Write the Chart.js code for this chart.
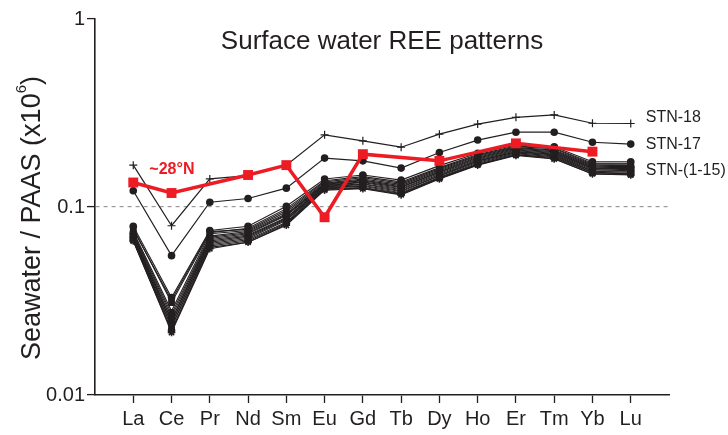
<!DOCTYPE html>
<html>
<head>
<meta charset="utf-8">
<script src="https://cdn.jsdelivr.net/npm/chart.js@4.4.1/dist/chart.umd.min.js"></script>
<style>
  html, body { margin: 0; padding: 0; background: #fff; }
  #wrap { width: 728px; height: 435px; }
</style>
</head>
<body>
<div id="wrap"><canvas id="ree" width="728" height="435"></canvas></div>
<script>
// Elementos (eje X)
const categories = ['La', 'Ce', 'Pr', 'Nd', 'Sm', 'Eu', 'Gd', 'Tb', 'Dy', 'Ho', 'Er', 'Tm', 'Yb', 'Lu'];
const yTickValues = [0.01, 0.1, 1];
const yTickLabels = ['0.01', '0.1', '1'];

// Series
const stn18 = [0.167, 0.0795, 0.141, 0.147, 0.167, 0.242, 0.225, 0.208, 0.244, 0.276, 0.300, 0.309, 0.279, 0.278];
const stn17 = [0.122, 0.0551, 0.106, 0.111, 0.126, 0.182, 0.176, 0.161, 0.195, 0.227, 0.250, 0.250, 0.221, 0.216];
const site28N = [0.135, 0.1187, null, 0.148, 0.167, 0.0882, 0.191, null, 0.176, null, 0.218, null, 0.197, null];

// STN-(1-15)
const stn01 = [0.079, 0.033, 0.075, 0.079, 0.101, 0.141, 0.148, 0.139, 0.166, 0.193, 0.214, 0.209, 0.174, 0.174];
const stn02 = [0.077, 0.031, 0.073, 0.077, 0.098, 0.138, 0.145, 0.136, 0.162, 0.190, 0.211, 0.206, 0.171, 0.171];
const stn03 = [0.076, 0.032, 0.074, 0.076, 0.096, 0.136, 0.143, 0.134, 0.160, 0.188, 0.209, 0.204, 0.169, 0.169];
const stn04 = [0.074, 0.028, 0.072, 0.075, 0.094, 0.134, 0.141, 0.132, 0.158, 0.186, 0.207, 0.201, 0.167, 0.166];
const stn05 = [0.073, 0.027, 0.070, 0.074, 0.092, 0.133, 0.139, 0.130, 0.156, 0.184, 0.205, 0.199, 0.165, 0.164];
const stn06 = [0.072, 0.026, 0.069, 0.073, 0.091, 0.132, 0.138, 0.128, 0.154, 0.182, 0.203, 0.197, 0.163, 0.162];
const stn07 = [0.071, 0.025, 0.068, 0.072, 0.090, 0.131, 0.136, 0.127, 0.153, 0.180, 0.201, 0.195, 0.161, 0.160];
const stn08 = [0.070, 0.025, 0.067, 0.071, 0.088, 0.130, 0.135, 0.125, 0.151, 0.178, 0.199, 0.193, 0.160, 0.158];
const stn09 = [0.069, 0.024, 0.066, 0.070, 0.087, 0.129, 0.133, 0.124, 0.149, 0.176, 0.197, 0.191, 0.158, 0.156];
const stn10 = [0.069, 0.024, 0.065, 0.069, 0.086, 0.128, 0.132, 0.122, 0.147, 0.175, 0.196, 0.189, 0.156, 0.155];
const stn11 = [0.068, 0.023, 0.064, 0.068, 0.085, 0.127, 0.130, 0.121, 0.146, 0.173, 0.194, 0.187, 0.155, 0.153];
const stn12 = [0.067, 0.023, 0.063, 0.067, 0.083, 0.126, 0.129, 0.119, 0.144, 0.171, 0.192, 0.185, 0.153, 0.151];
const stn13 = [0.067, 0.022, 0.062, 0.066, 0.082, 0.125, 0.127, 0.118, 0.143, 0.169, 0.190, 0.183, 0.152, 0.150];
const stn14 = [0.066, 0.022, 0.061, 0.065, 0.081, 0.124, 0.126, 0.117, 0.142, 0.168, 0.189, 0.181, 0.150, 0.149];
const stn15 = [0.066, 0.0215, 0.060, 0.065, 0.080, 0.123, 0.125, 0.116, 0.141, 0.167, 0.188, 0.180, 0.150, 0.148];

const stnGroup = [stn01, stn02, stn03, stn04, stn05, stn06, stn07, stn08, stn09, stn10, stn11, stn12, stn13, stn14, stn15];

const FONT = '"Liberation Sans", Arial, Helvetica, sans-serif';
const INK = '#231f20';
const RED = '#ed1c24';

// convierte una serie en puntos {x: indice, y: valor}
function toPoints(serie) {
    return serie.map((v, i) => ({ x: i, y: v }));
}

const marcadores = ['circle', 'rect', 'triangle', 'triangle', 'circle', 'rectRot', 'circle', 'rect',
    'triangle', 'circle', 'crossRot', 'rect', 'circle', 'triangle', 'star'];

const datasets = [];

datasets.push({
    label: '~28°N',
    data: toPoints(site28N),
    borderColor: RED,
    backgroundColor: RED,
    borderWidth: 3.5,
    pointStyle: 'rect',
    pointRadius: 7,
    pointBorderWidth: 0,
    spanGaps: true
});

datasets.push({
    label: 'STN-18',
    data: toPoints(stn18),
    borderColor: INK,
    backgroundColor: INK,
    borderWidth: 1.2,
    pointStyle: 'cross',
    pointRadius: 4,
    pointBorderWidth: 1.2
});

datasets.push({
    label: 'STN-17',
    data: toPoints(stn17),
    borderColor: INK,
    backgroundColor: INK,
    borderWidth: 1.2,
    pointStyle: 'circle',
    pointRadius: 3.8,
    pointBorderWidth: 0
});

stnGroup.forEach((serie, i) => {
    datasets.push({
        label: 'STN-' + (i + 1),
        data: toPoints(serie),
        borderColor: INK,
        backgroundColor: INK,
        borderWidth: 1.1,
        pointStyle: marcadores[i],
        pointRotation: (i === 3 || i === 8) ? 180 : 0,
        pointRadius: marcadores[i] === 'rect' ? 4.8 : 3.8,
        pointBorderWidth: (marcadores[i] === 'star' || marcadores[i] === 'crossRot') ? 1.5 : 0
    });
});

// Textos sobre el canvas
const textos = {
    id: 'textos',
    afterDraw(chart) {
        const { ctx, chartArea, scales } = chart;
        const xs = scales.x, ys = scales.y;
        ctx.save();

        // titulo
        ctx.fillStyle = INK;
        ctx.font = '26px ' + FONT;
        ctx.textAlign = 'center';
        ctx.textBaseline = 'middle';
        ctx.fillText('Surface water REE patterns', (chartArea.left + chartArea.right) / 2, 42);

        // etiqueta eje Y con superindice
        const partA = 'Seawater / PAAS (x10';
        const partB = '6';
        const partC = ')';
        ctx.font = '27px ' + FONT;
        const wA = ctx.measureText(partA).width;
        const wC = ctx.measureText(partC).width;
        ctx.font = '15px ' + FONT;
        const wB = ctx.measureText(partB).width;
        const total = wA + wB + wC;
        ctx.translate(30, 218);
        ctx.rotate(-Math.PI / 2);
        ctx.textAlign = 'left';
        ctx.textBaseline = 'alphabetic';
        ctx.font = '27px ' + FONT;
        ctx.fillText(partA, -total / 2, 10);
        ctx.font = '15px ' + FONT;
        ctx.fillText(partB, -total / 2 + wA, -4);
        ctx.font = '27px ' + FONT;
        ctx.fillText(partC, -total / 2 + wA + wB, 10);
        ctx.setTransform(1, 0, 0, 1, 0, 0);

        // etiquetas de series a la derecha
        ctx.font = '16px ' + FONT;
        ctx.textAlign = 'left';
        ctx.textBaseline = 'middle';
        const last = categories.length - 1;
        const xr = xs.getPixelForValue(last) + 15;
        ctx.fillText('STN-18', xr, ys.getPixelForValue(stn18[last]) - 6);
        ctx.fillText('STN-17', xr, ys.getPixelForValue(stn17[last]) + 0);
        ctx.fillText('STN-(1-15)', xr, ys.getPixelForValue(stn01[last]) + 9);

        // etiqueta roja
        ctx.fillStyle = RED;
        ctx.font = 'bold 16px ' + FONT;
        ctx.fillText('~28°N', xs.getPixelForValue(0.42), ys.getPixelForValue(0.159));

        ctx.restore();
    }
};

const ctx = document.getElementById('ree').getContext('2d');
new Chart(ctx, {
    type: 'line',
    data: { datasets: datasets },
    options: {
        responsive: false,
        animation: false,
        events: [],
        layout: { padding: { top: 19, right: 59, left: 0, bottom: 0 } },
        plugins: { legend: { display: false }, tooltip: { enabled: false } },
        scales: {
            x: {
                type: 'linear',
                min: -1,
                max: categories.length,
                afterFit: s => { s.height = 40; },
                afterBuildTicks: s => { s.ticks = categories.map((c, i) => ({ value: i })); },
                ticks: {
                    callback: v => categories[v],
                    color: INK,
                    font: { family: FONT, size: 20 },
                    padding: 4,
                    maxRotation: 0,
                    autoSkip: false
                },
                grid: {
                    color: 'transparent',
                    drawOnChartArea: false,
                    tickColor: INK,
                    tickLength: 8,
                    tickWidth: 1.3
                },
                border: { color: INK, width: 1.6 }
            },
            y: {
                type: 'logarithmic',
                min: yTickValues[0],
                max: yTickValues[yTickValues.length - 1],
                afterFit: s => { s.width = 95; },
                afterBuildTicks: s => { s.ticks = yTickValues.map(v => ({ value: v })); },
                ticks: {
                    callback: v => yTickLabels[yTickValues.indexOf(v)],
                    color: INK,
                    font: { family: FONT, size: 20 },
                    padding: 2
                },
                grid: {
                    color: c => (c.tick && c.tick.value === 0.1) ? '#9a9a9a' : 'transparent',
                    lineWidth: 1.2,
                    tickColor: INK,
                    tickLength: 8,
                    tickWidth: 1.3,
                    tickBorderDash: []
                },
                border: { color: INK, width: 1.6, dash: [4, 4] }
            }
        }
    },
    plugins: [textos]
});
</script>
</body>
</html>
